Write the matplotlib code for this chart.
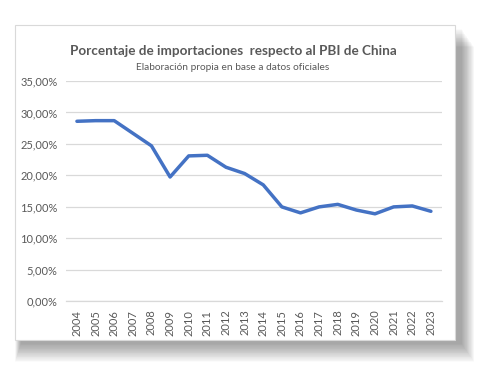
import matplotlib.pyplot as plt
from matplotlib.patches import Rectangle
from matplotlib.ticker import FuncFormatter
import numpy as np

# ── Datos ────────────────────────────────────────────────────
anios = ['2004', '2005', '2006', '2007', '2008', '2009', '2010', '2011', '2012', '2013',
         '2014', '2015', '2016', '2017', '2018', '2019', '2020', '2021', '2022', '2023']
importaciones_pbi = [28.6, 28.7, 28.7, 26.7, 24.7, 19.75, 23.1, 23.2, 21.3, 20.3,
                     18.5, 15.0, 14.05, 15.0, 15.4, 14.5, 13.9, 15.0, 15.15, 14.3]

TITULO = 'Porcentaje de importaciones  respecto al PBI de China'
SUBTITULO = 'Elaboración propia en base a datos oficiales'

GRIS_TEXTO = '#595959'
AZUL = '#4472C4'
FUENTE = 'Lato'

fig = plt.figure(figsize=(4.8, 3.75), dpi=100)
fig.patch.set_facecolor('white')

# ── Sombra difusa y caja blanca ──────────────────────────────
bx0, by0, bw, bh = 15 / 480, 35 / 375, 440 / 480, 315 / 375
for i in range(24, 0, -1):
    d = i * 0.8
    fig.patches.append(Rectangle((bx0 + (6 - d * 0.3) / 480, by0 - (d + 3) / 375),
                                 bw + d / 480, bh,
                                 transform=fig.transFigure, facecolor='black',
                                 alpha=0.016, edgecolor='none', zorder=0))
fig.patches.append(Rectangle((bx0, by0), bw, bh, transform=fig.transFigure,
                             facecolor='white', edgecolor='#d9d9d9', lw=0.8, zorder=1))

# ── Grafico ──────────────────────────────────────────────────
ax = fig.add_axes([0.137, 0.1965, 0.784, 0.5875])
ax.set_zorder(2)
ax.patch.set_alpha(0)

x = np.arange(len(anios))
ax.plot(x, importaciones_pbi, color=AZUL, lw=2.5, solid_capstyle='round',
        solid_joinstyle='round', zorder=3)

ax.set_ylim(0, 35)
ax.set_yticks(np.arange(0, 36, 5))
ax.yaxis.set_major_formatter(FuncFormatter(lambda v, p: f'{v:.2f}%'.replace('.', ',')))
ax.set_xlim(-0.6, len(anios) - 0.4)
ax.set_xticks(x)
ax.set_xticklabels(anios, rotation=90)

ax.grid(axis='y', color='#d9d9d9', lw=0.9)
ax.set_axisbelow(True)
for s in ['top', 'right', 'left']:
    ax.spines[s].set_visible(False)
ax.spines['bottom'].set_color('#d9d9d9')
ax.spines['bottom'].set_linewidth(0.9)
ax.tick_params(length=0, colors=GRIS_TEXTO, labelsize=8, pad=6)
for lbl in ax.get_xticklabels() + ax.get_yticklabels():
    lbl.set_fontfamily(FUENTE)

# ── Titulos ──────────────────────────────────────────────────
fig.text(233 / 480, 1 - 51 / 375, TITULO, ha='center', va='center',
         fontsize=9.7, fontweight='bold', color=GRIS_TEXTO, family=FUENTE, zorder=3)
fig.text(233 / 480, 1 - 67 / 375, SUBTITULO, ha='center', va='center',
         fontsize=7.3, color=GRIS_TEXTO, family=FUENTE, zorder=3)

plt.savefig('out.png', dpi=100)
plt.close()
